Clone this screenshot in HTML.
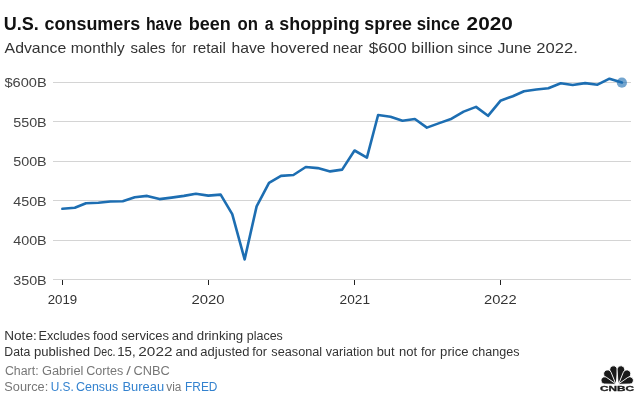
<!DOCTYPE html>
<html><head><meta charset="utf-8">
<style>
html,body{margin:0;padding:0;background:#fff;}
body{width:641px;height:405px;position:relative;overflow:hidden;}
svg{position:absolute;left:0;top:0;font-family:"Liberation Sans",Arial,sans-serif;}
.g{stroke:#d4d4d4;stroke-width:1;shape-rendering:crispEdges;}
.t{stroke:#222;stroke-width:1;shape-rendering:crispEdges;}
.yl{font-size:13.6px;fill:#444;}
.xl{font-size:13.7px;fill:#333;}
.ti{font-size:17.6px;font-weight:bold;fill:#111;}
.st{font-size:14.8px;fill:#333;}
.n{font-size:12px;}
.d{fill:#333;}
.l{fill:#777;}
.lk{fill:#3382cf;}
</style></head><body>
<svg width="641" height="405" viewBox="0 0 641 405">
<line x1="53" x2="631" y1="82.5" y2="82.5" class="g"/>
<line x1="53" x2="631" y1="121.5" y2="121.5" class="g"/>
<line x1="53" x2="631" y1="161.5" y2="161.5" class="g"/>
<line x1="53" x2="631" y1="200.5" y2="200.5" class="g"/>
<line x1="53" x2="631" y1="240.5" y2="240.5" class="g"/>
<line x1="53" x2="631" y1="279.5" y2="279.5" class="g"/>
<line x1="62.5" x2="62.5" y1="280" y2="285" class="t"/>
<line x1="208.5" x2="208.5" y1="280" y2="285" class="t"/>
<line x1="354.5" x2="354.5" y1="280" y2="285" class="t"/>
<line x1="500.5" x2="500.5" y1="280" y2="285" class="t"/>
<text x="4.50" y="87" textLength="42.20" lengthAdjust="spacingAndGlyphs" class="yl">$600B</text>
<text x="13.20" y="127" textLength="33.50" lengthAdjust="spacingAndGlyphs" class="yl">550B</text>
<text x="13.20" y="166" textLength="33.50" lengthAdjust="spacingAndGlyphs" class="yl">500B</text>
<text x="13.20" y="206" textLength="33.50" lengthAdjust="spacingAndGlyphs" class="yl">450B</text>
<text x="13.20" y="245" textLength="33.50" lengthAdjust="spacingAndGlyphs" class="yl">400B</text>
<text x="13.20" y="285" textLength="33.50" lengthAdjust="spacingAndGlyphs" class="yl">350B</text>
<text x="47.70" y="303.9" textLength="29.50" lengthAdjust="spacingAndGlyphs" class="xl">2019</text>
<text x="191.50" y="303.9" textLength="33.10" lengthAdjust="spacingAndGlyphs" class="xl">2020</text>
<text x="339.60" y="303.9" textLength="30.40" lengthAdjust="spacingAndGlyphs" class="xl">2021</text>
<text x="484.00" y="303.9" textLength="32.70" lengthAdjust="spacingAndGlyphs" class="xl">2022</text>
<path d="M62.40,208.80 L74.79,207.80 L85.98,203.20 L98.37,202.80 L110.36,201.50 L122.74,201.30 L134.73,197.30 L147.12,195.90 L159.51,199.10 L171.50,197.60 L183.89,195.90 L195.88,193.80 L208.27,195.60 L220.66,194.60 L232.24,214.20 L244.63,259.40 L256.62,206.40 L269.01,182.90 L281.00,175.90 L293.39,175.00 L305.78,167.00 L317.77,168.10 L330.16,171.40 L342.14,169.60 L354.53,150.50 L366.92,157.60 L378.11,115.00 L390.50,116.80 L402.49,120.80 L414.88,119.00 L426.87,127.60 L439.26,123.10 L451.64,118.70 L463.63,111.60 L476.02,106.90 L488.01,115.80 L500.40,100.80 L512.79,96.20 L523.98,91.20 L536.37,89.50 L548.36,88.30 L560.74,83.20 L572.73,85.00 L585.12,83.10 L597.51,84.70 L609.50,78.70 L621.89,82.50" fill="none" stroke="#1d6eb2" stroke-width="2.6" stroke-linejoin="round" stroke-linecap="round"/>
<circle cx="621.89" cy="82.70" r="5.1" fill="#1d6eb2" fill-opacity="0.62"/>
<g fill="#1a1a1a" stroke="#fff" stroke-width="0.9"><path d="M616.40,383.64 L617.29,369.85 A3.8,3.8 0 1 0 609.99,371.05 L615.25,383.83 A0.6,0.6 0 0 0 616.40,383.64 Z"/><path d="M619.15,383.83 L624.41,371.05 A3.8,3.8 0 1 0 617.11,369.85 L618.00,383.64 A0.6,0.6 0 0 0 619.15,383.83 Z"/><path d="M615.56,383.38 L611.12,372.34 A3.9,3.9 0 1 0 605.15,376.91 L614.64,384.08 A0.6,0.6 0 0 0 615.56,383.38 Z"/><path d="M619.76,384.08 L629.25,376.91 A3.9,3.9 0 1 0 623.28,372.34 L618.84,383.38 A0.6,0.6 0 0 0 619.76,384.08 Z"/><path d="M614.85,383.21 L606.67,377.46 A3.6,3.6 0 1 0 604.49,384.00 L614.48,384.30 A0.6,0.6 0 0 0 614.85,383.21 Z"/><path d="M619.92,384.30 L629.91,384.00 A3.6,3.6 0 1 0 627.73,377.46 L619.55,383.21 A0.6,0.6 0 0 0 619.92,384.30 Z"/></g><polygon points="615.1,384.4 619.3,384.4 617.2,378.6" fill="#fff"/><text x="600.1" y="390.8" textLength="34" lengthAdjust="spacingAndGlyphs" font-size="7.6" font-weight="bold" fill="#1a1a1a" stroke="#1a1a1a" stroke-width="0.3" font-family="Liberation Sans">CNBC</text>
<text x="3.77" y="30.2" textLength="35.09" lengthAdjust="spacingAndGlyphs" class="ti">U.S.</text>
<text x="44.60" y="30.2" textLength="95.61" lengthAdjust="spacingAndGlyphs" class="ti">consumers</text>
<text x="145.94" y="30.2" textLength="36.09" lengthAdjust="spacingAndGlyphs" class="ti">have</text>
<text x="188.74" y="30.2" textLength="42.08" lengthAdjust="spacingAndGlyphs" class="ti">been</text>
<text x="237.58" y="30.2" textLength="20.44" lengthAdjust="spacingAndGlyphs" class="ti">on</text>
<text x="264.76" y="30.2" textLength="8.85" lengthAdjust="spacingAndGlyphs" class="ti">a</text>
<text x="279.38" y="30.2" textLength="80.26" lengthAdjust="spacingAndGlyphs" class="ti">shopping</text>
<text x="364.37" y="30.2" textLength="47.65" lengthAdjust="spacingAndGlyphs" class="ti">spree</text>
<text x="416.76" y="30.2" textLength="43.05" lengthAdjust="spacingAndGlyphs" class="ti">since</text>
<text x="466.59" y="30.2" textLength="46.22" lengthAdjust="spacingAndGlyphs" class="ti">2020</text>
<text x="4.58" y="53.4" textLength="61.64" lengthAdjust="spacingAndGlyphs" class="st">Advance</text>
<text x="70.77" y="53.4" textLength="53.84" lengthAdjust="spacingAndGlyphs" class="st">monthly</text>
<text x="130.58" y="53.4" textLength="35.03" lengthAdjust="spacingAndGlyphs" class="st">sales</text>
<text x="171.38" y="53.4" textLength="14.66" lengthAdjust="spacingAndGlyphs" class="st">for</text>
<text x="192.73" y="53.4" textLength="33.10" lengthAdjust="spacingAndGlyphs" class="st">retail</text>
<text x="231.53" y="53.4" textLength="34.10" lengthAdjust="spacingAndGlyphs" class="st">have</text>
<text x="270.59" y="53.4" textLength="58.44" lengthAdjust="spacingAndGlyphs" class="st">hovered</text>
<text x="332.75" y="53.4" textLength="30.07" lengthAdjust="spacingAndGlyphs" class="st">near</text>
<text x="368.79" y="53.4" textLength="38.05" lengthAdjust="spacingAndGlyphs" class="st">$600</text>
<text x="411.33" y="53.4" textLength="42.13" lengthAdjust="spacingAndGlyphs" class="st">billion</text>
<text x="457.58" y="53.4" textLength="35.03" lengthAdjust="spacingAndGlyphs" class="st">since</text>
<text x="497.40" y="53.4" textLength="34.23" lengthAdjust="spacingAndGlyphs" class="st">June</text>
<text x="536.35" y="53.4" textLength="41.51" lengthAdjust="spacingAndGlyphs" class="st">2022.</text>
<text x="4.31" y="340.3" textLength="32.39" lengthAdjust="spacingAndGlyphs" class="n d">Note:</text>
<text x="38.59" y="340.3" textLength="51.42" lengthAdjust="spacingAndGlyphs" class="n d">Excludes</text>
<text x="92.93" y="340.3" textLength="24.92" lengthAdjust="spacingAndGlyphs" class="n d">food</text>
<text x="121.37" y="340.3" textLength="47.63" lengthAdjust="spacingAndGlyphs" class="n d">services</text>
<text x="171.74" y="340.3" textLength="21.72" lengthAdjust="spacingAndGlyphs" class="n d">and</text>
<text x="196.77" y="340.3" textLength="46.45" lengthAdjust="spacingAndGlyphs" class="n d">drinking</text>
<text x="246.79" y="340.3" textLength="36.03" lengthAdjust="spacingAndGlyphs" class="n d">places</text>
<text x="4.35" y="356" textLength="25.87" lengthAdjust="spacingAndGlyphs" class="n d">Data</text>
<text x="33.97" y="356" textLength="56.07" lengthAdjust="spacingAndGlyphs" class="n d">published</text>
<text x="93.59" y="356" textLength="21.86" lengthAdjust="spacingAndGlyphs" class="n d">Dec.</text>
<text x="117.25" y="356" textLength="18.42" lengthAdjust="spacingAndGlyphs" class="n d">15,</text>
<text x="138.35" y="356" textLength="34.09" lengthAdjust="spacingAndGlyphs" class="n d">2022</text>
<text x="175.59" y="356" textLength="21.86" lengthAdjust="spacingAndGlyphs" class="n d">and</text>
<text x="200.37" y="356" textLength="49.06" lengthAdjust="spacingAndGlyphs" class="n d">adjusted</text>
<text x="252.38" y="356" textLength="14.66" lengthAdjust="spacingAndGlyphs" class="n d">for</text>
<text x="271.37" y="356" textLength="50.85" lengthAdjust="spacingAndGlyphs" class="n d">seasonal</text>
<text x="325.79" y="356" textLength="47.42" lengthAdjust="spacingAndGlyphs" class="n d">variation</text>
<text x="376.74" y="356" textLength="17.85" lengthAdjust="spacingAndGlyphs" class="n d">but</text>
<text x="398.94" y="356" textLength="18.11" lengthAdjust="spacingAndGlyphs" class="n d">not</text>
<text x="420.91" y="356" textLength="14.79" lengthAdjust="spacingAndGlyphs" class="n d">for</text>
<text x="440.14" y="356" textLength="28.30" lengthAdjust="spacingAndGlyphs" class="n d">price</text>
<text x="471.99" y="356" textLength="47.44" lengthAdjust="spacingAndGlyphs" class="n d">changes</text>
<text x="4.93" y="374.7" textLength="33.71" lengthAdjust="spacingAndGlyphs" class="n l">Chart:</text>
<text x="41.96" y="374.7" textLength="41.45" lengthAdjust="spacingAndGlyphs" class="n l">Gabriel</text>
<text x="86.17" y="374.7" textLength="37.08" lengthAdjust="spacingAndGlyphs" class="n l">Cortes</text>
<text x="126.15" y="374.7" textLength="4.57" lengthAdjust="spacingAndGlyphs" class="n l">/</text>
<text x="133.54" y="374.7" textLength="36.30" lengthAdjust="spacingAndGlyphs" class="n l">CNBC</text>
<text x="4.34" y="390.6" textLength="43.90" lengthAdjust="spacingAndGlyphs" class="n l">Source:</text>
<text x="50.72" y="390.6" textLength="23.04" lengthAdjust="spacingAndGlyphs" class="n l lk">U.S.</text>
<text x="75.97" y="390.6" textLength="42.27" lengthAdjust="spacingAndGlyphs" class="n l lk">Census</text>
<text x="122.54" y="390.6" textLength="41.52" lengthAdjust="spacingAndGlyphs" class="n l lk">Bureau</text>
<text x="166.32" y="390.6" textLength="15.13" lengthAdjust="spacingAndGlyphs" class="n l">via</text>
<text x="185.11" y="390.6" textLength="32.33" lengthAdjust="spacingAndGlyphs" class="n l lk">FRED</text>
</svg>
</body></html>
